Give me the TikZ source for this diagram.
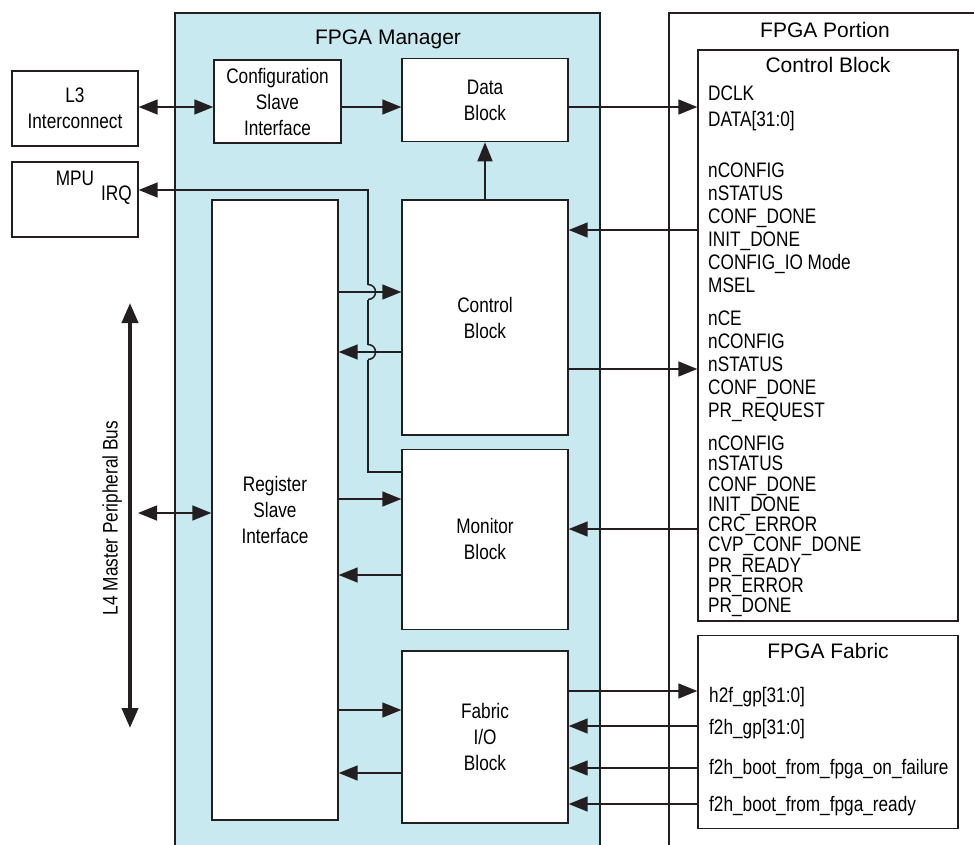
\documentclass[tikz,border=0pt]{standalone}
\usepackage{fontspec}
\setmainfont{Liberation Sans}
\newfontfamily\narrowfont{Liberation Sans}[FakeStretch=0.82]
\usetikzlibrary{arrows.meta,
positioning}

\definecolor{mgrblue}{RGB}{200,233,240}
\definecolor{linecol}{RGB}{35,31,32}

\begin{document}
\begin{tikzpicture}[
    x=1pt, y=-1pt,
    font=\fontsize{21}{26}\selectfont,
    block/.style={
        draw=linecol,
        line width=1.4pt,
        fill=white,
        align=center,
        font=\narrowfont\fontsize{21}{26}\selectfont
    },
    area/.style={
        draw=linecol,
        line width=1.4pt
    },
    title/.style={
        inner sep=0pt,
        text height=15pt,
        text depth=0pt
    },
    signal/.style={
        anchor=west,
        inner sep=0pt,
        text height=15pt,
        text depth=0pt,
        font=\narrowfont\fontsize{21}{26}\selectfont
    },
    flow/.style={
        -{Triangle[length=19pt,width=15pt]},
        line width=1.5pt,
        draw=linecol
    },
    biflow/.style={
        {Triangle[length=19pt,width=15pt]}-{Triangle[length=19pt,width=15pt]},
        line width=1.5pt,
        draw=linecol
    },
    hop/.style={
        line width=1.5pt,
        draw=linecol
    },
    bus/.style={
        {Triangle[length=20pt,width=16pt]}-{Triangle[length=20pt,width=16pt]},
        line width=4pt,
        draw=linecol
    }
]

\useasboundingbox (0,0) rectangle (974,845);

%------------------------------------------------------------------------------
% Outer regions
%------------------------------------------------------------------------------

\node[area, fill=mgrblue, minimum width=425pt, minimum height=857pt]
    (mgr) at (387.5,441.5) {};
\node[area, minimum width=321pt, minimum height=857pt]
    (portion) at (829.5,441.5) {};

\node[title] (mgrTitle) at (388,37) {FPGA Manager};
\node[title] (portionTitle) at (825,30) {FPGA Portion};

%------------------------------------------------------------------------------
% HPS side blocks
%------------------------------------------------------------------------------

\node[block, minimum width=126pt, minimum height=75pt] (l3) at (75,108.5)
    {L3\\Interconnect};
\node[block, minimum width=126pt, minimum height=75pt] (mpu) at (75,199.5) {};
\node[signal, anchor=center] (mpuLabel) at (75,178) {MPU};
\node[signal, anchor=east] (irqLabel) at (132,193) {IRQ};

%------------------------------------------------------------------------------
% FPGA manager blocks
%------------------------------------------------------------------------------

\node[block, minimum width=127pt, minimum height=83pt] (cfg) at (277.5,101.5)
    {Configuration\\Slave\\Interface};
\node[block, minimum width=126pt, minimum height=620pt] (reg) at (275,510)
    {Register\\Slave\\Interface};

\node[block, minimum width=166pt, minimum height=235pt] (ctl) at (485,317.5)
    {Control\\Block};
\node[block, minimum width=166pt, minimum height=83pt, above=57pt of ctl] (data)
    {Data\\Block};
\node[block, minimum width=166pt, minimum height=180pt, below=13pt of ctl] (mon)
    {Monitor\\Block};
\node[block, minimum width=166pt, minimum height=172pt, below=20pt of mon] (fio)
    {Fabric\\I/O\\Block};

%------------------------------------------------------------------------------
% FPGA portion blocks
%------------------------------------------------------------------------------

\node[area, fill=white, minimum width=260pt, minimum height=571pt] (fctl)
    at (828,335.5) {};
\node[area, fill=white, minimum width=260pt, minimum height=193pt,
    below=13pt of fctl] (fab) {};

\node[title] (fctlTitle) at (828,65) {Control Block};
\node[title] (fabTitle) at (828,651) {FPGA Fabric};

\node[signal] (dclk) at (708,93) {DCLK};
\node[signal] (dataBus) at (708,119) {DATA[31:0]};

\foreach \s [count=\i] in {nCONFIG, nSTATUS, CONF\_DONE, INIT\_DONE,
    CONFIG\_IO Mode, MSEL}
    \node[signal] (cfgSig\i) at (708,{170+23*(\i-1)}) {\s};

\foreach \s [count=\i] in {nCE, nCONFIG, nSTATUS, CONF\_DONE, PR\_REQUEST}
    \node[signal] (ctlSig\i) at (708,{318+23*(\i-1)}) {\s};

\foreach \s [count=\i] in {nCONFIG, nSTATUS, CONF\_DONE, INIT\_DONE,
    CRC\_ERROR, CVP\_CONF\_DONE, PR\_READY, PR\_ERROR, PR\_DONE}
    \node[signal] (monSig\i) at (708,{443+20.25*(\i-1)}) {\s};

\node[signal] (h2f) at (709,695) {h2f\_gp[31:0]};
\node[signal] (f2h) at (709,727) {f2h\_gp[31:0]};
\node[signal] (bootFail) at (709,767) {f2h\_boot\_from\_fpga\_on\_failure};
\node[signal] (bootReady) at (709,804) {f2h\_boot\_from\_fpga\_ready};

%------------------------------------------------------------------------------
% L4 bus
%------------------------------------------------------------------------------

\coordinate (busTop) at (130,303);
\coordinate (busBottom) at (130,728);
\coordinate (busTap) at (138,513);

\draw[bus] (busTop) -- (busBottom);
\node[signal, anchor=center, rotate=90] (busLabel) at (110,518)
    {L4 Master Peripheral Bus};

\draw[biflow] (busTap) -- (reg.west |- busTap);

%------------------------------------------------------------------------------
% Connections
%------------------------------------------------------------------------------

\draw[biflow] (l3.east |- 0,107) -- (cfg.west |- 0,107);
\draw[flow] (cfg.east |- 0,107) -- (data.west |- 0,107);
\draw[flow] (data.east |- 0,107) -- (fctl.west |- 0,107);
\draw[flow] (ctl.north) -- (data.south);

\draw[flow] (fctl.west |- 0,230) -- (ctl.east |- 0,230);
\draw[flow] (ctl.east |- 0,369) -- (fctl.west |- 0,369);
\draw[flow] (fctl.west |- 0,529) -- (mon.east |- 0,529);

\draw[flow] (fio.east |- 0,691) -- (fab.west |- 0,691);
\draw[flow] (fab.west |- 0,726) -- (fio.east |- 0,726);
\draw[flow] (fab.west |- 0,768) -- (fio.east |- 0,768);
\draw[flow] (fab.west |- 0,804) -- (fio.east |- 0,804);

\draw[flow] (reg.east |- 0,292) -- (ctl.west |- 0,292);
\draw[flow] (ctl.west |- 0,352) -- (reg.east |- 0,352);
\draw[flow] (reg.east |- 0,499) -- (mon.west |- 0,499);
\draw[flow] (mon.west |- 0,575) -- (reg.east |- 0,575);
\draw[flow] (reg.east |- 0,710) -- (fio.west |- 0,710);
\draw[flow] (fio.west |- 0,773) -- (reg.east |- 0,773);

% interrupt line, with gaps where it hops over the control block arrows
\coordinate (irqBend) at (368,190);
\draw[flow]
    (mon.west |- 0,472) -- (irqBend |- 0,472)
    -- (irqBend |- 0,359.5)
    (irqBend |- 0,344.5) -- (irqBend |- 0,299.5)
    (irqBend |- 0,284.5) -- (irqBend)
    -- (mpu.east |- irqBend);
\draw[hop] (irqBend |- 0,359.5)
    .. controls +(10,0) and +(10,0) .. (irqBend |- 0,344.5);
\draw[hop] (irqBend |- 0,299.5)
    .. controls +(10,0) and +(10,0) .. (irqBend |- 0,284.5);

\end{tikzpicture}
\end{document}
